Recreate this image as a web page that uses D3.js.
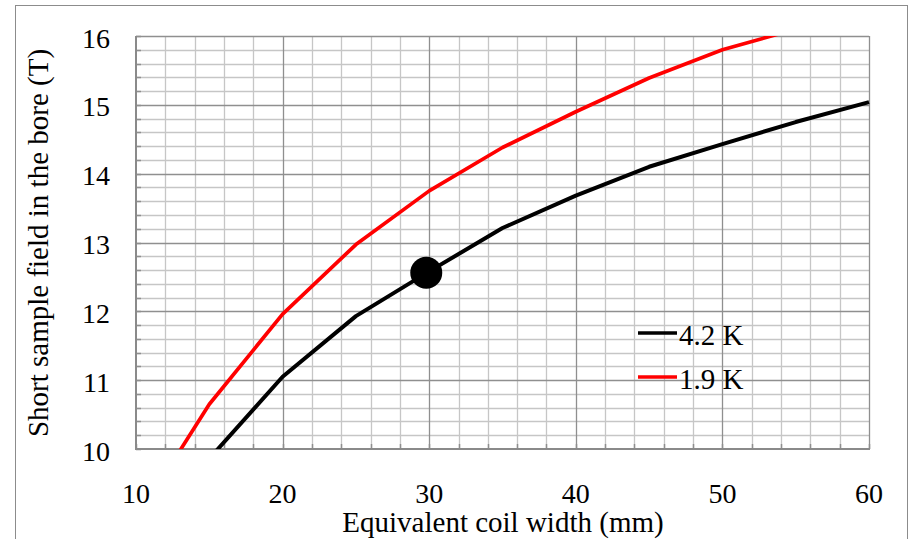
<!DOCTYPE html>
<html>
<head>
<meta charset="utf-8">
<script src="https://cdn.jsdelivr.net/npm/d3@7/dist/d3.min.js"></script>
<style>
  html, body { margin: 0; padding: 0; background: #fff; }
  svg { display: block; }
  text { font-family: "Liberation Serif", "Times New Roman", serif; fill: #000; }
</style>
</head>
<body>
<svg id="chart" width="909" height="539"></svg>
<script>
// Coil width (mm) against short-sample bore field (T)
const widths42 = [15, 20, 25, 30, 35, 40, 45, 50, 55, 60];
const field42  = [9.86, 11.05, 11.93, 12.58, 13.21, 13.68, 14.10, 14.43, 14.75, 15.04];
const widths19 = [12.5, 15, 20, 25, 30, 35, 40, 45, 50, 55, 60];
const field19  = [9.81, 10.65, 11.96, 12.97, 13.75, 14.38, 14.90, 15.39, 15.80, 16.10, 16.40];
const markerPoint = [29.8, 12.56];
const xTicks = [10, 20, 30, 40, 50, 60];
const yTicks = [10, 11, 12, 13, 14, 15, 16];
const legendLabels = ["4.2 K", "1.9 K"];
const seriesColors = ["#000000", "#ff0000"];

const svg = d3.select("#chart");
const plot = { left: 136, top: 36, right: 869, bottom: 449 };

// outer frame
svg.append("rect")
  .attr("x", 15.5).attr("y", 5.5)
  .attr("width", 892).attr("height", 545)
  .attr("fill", "none").attr("stroke", "#8c8c8c").attr("stroke-width", 1);

const x = d3.scaleLinear().domain([10, 60]).range([plot.left, plot.right]);
const y = d3.scaleLinear().domain([10, 16]).range([plot.bottom, plot.top]);

const grid = svg.append("g");
// minor grid
const xMinor = d3.range(12, 60, 2).filter(v => v % 10 !== 0);
const yMinor = d3.range(10.2, 16, 0.2).filter(v => Math.abs(v - Math.round(v)) > 1e-6);
grid.selectAll(".vmin").data(xMinor).join("line")
  .attr("x1", d => Math.round(x(d)) + 0.5).attr("x2", d => Math.round(x(d)) + 0.5)
  .attr("y1", plot.top).attr("y2", plot.bottom)
  .attr("stroke", "#c6c6c6").attr("stroke-width", 1.3);
grid.selectAll(".hmin").data(yMinor).join("line")
  .attr("y1", d => Math.round(y(d)) + 0.5).attr("y2", d => Math.round(y(d)) + 0.5)
  .attr("x1", plot.left).attr("x2", plot.right)
  .attr("stroke", "#c6c6c6").attr("stroke-width", 1.3);
// major grid
grid.selectAll(".vmaj").data(xTicks.slice(1)).join("line")
  .attr("x1", d => Math.round(x(d)) + 0.5).attr("x2", d => Math.round(x(d)) + 0.5)
  .attr("y1", plot.top).attr("y2", plot.bottom)
  .attr("stroke", "#8f8f8f").attr("stroke-width", 1.3);
grid.selectAll(".hmaj").data(yTicks.slice(1)).join("line")
  .attr("y1", d => Math.round(y(d)) + 0.5).attr("y2", d => Math.round(y(d)) + 0.5)
  .attr("x1", plot.left).attr("x2", plot.right)
  .attr("stroke", "#8f8f8f").attr("stroke-width", 1.3);

// inward minor tick marks along the axes
grid.selectAll(".xt").data(xMinor.concat(xTicks)).join("line")
  .attr("x1", d => Math.round(x(d)) + 0.5).attr("x2", d => Math.round(x(d)) + 0.5)
  .attr("y1", plot.bottom).attr("y2", plot.bottom - 5)
  .attr("stroke", "#8f8f8f").attr("stroke-width", 1.5);
grid.selectAll(".yt").data(yMinor.concat(yTicks)).join("line")
  .attr("y1", d => Math.round(y(d)) + 0.5).attr("y2", d => Math.round(y(d)) + 0.5)
  .attr("x1", plot.left).attr("x2", plot.left + 5)
  .attr("stroke", "#8f8f8f").attr("stroke-width", 1.5);

// axis lines
svg.append("line")
  .attr("x1", plot.left).attr("x2", plot.left)
  .attr("y1", plot.top).attr("y2", plot.bottom + 1)
  .attr("stroke", "#8a8a8a").attr("stroke-width", 2);
svg.append("line")
  .attr("x1", plot.left - 1).attr("x2", plot.right + 1)
  .attr("y1", plot.bottom).attr("y2", plot.bottom)
  .attr("stroke", "#8a8a8a").attr("stroke-width", 2);

// tick labels
svg.append("g").selectAll("text").data(yTicks).join("text")
  .attr("x", 110).attr("y", d => y(d) + 11.5)
  .attr("text-anchor", "end").attr("font-size", 28)
  .text(d => d);
svg.append("g").selectAll("text").data(xTicks).join("text")
  .attr("x", d => x(d)).attr("y", 503)
  .attr("text-anchor", "middle").attr("font-size", 28)
  .text(d => d);

// axis titles
svg.append("text")
  .attr("x", 503).attr("y", 532)
  .attr("text-anchor", "middle").attr("font-size", 29)
  .text("Equivalent coil width (mm)");
svg.append("text")
  .attr("transform", "translate(48,243) rotate(-90)")
  .attr("text-anchor", "middle").attr("font-size", 29)
  .text("Short sample field in the bore (T)");

// clipped data lines
svg.append("clipPath").attr("id", "plotClip")
  .append("rect").attr("x", plot.left).attr("y", plot.top)
  .attr("width", plot.right - plot.left + 3).attr("height", plot.bottom - plot.top);

const line = d3.line().x(d => x(d[0])).y(d => y(d[1]));
const series = [
  { pts: d3.zip(widths42, field42), color: seriesColors[0], w: 4 },
  { pts: d3.zip(widths19, field19), color: seriesColors[1], w: 3.7 }
];
const lines = svg.append("g").attr("clip-path", "url(#plotClip)");
lines.selectAll("path").data(series).join("path")
  .attr("d", d => line(d.pts))
  .attr("fill", "none").attr("stroke", d => d.color)
  .attr("stroke-width", d => d.w).attr("stroke-linejoin", "round");

// highlighted point
svg.append("circle")
  .attr("cx", x(markerPoint[0])).attr("cy", y(markerPoint[1]))
  .attr("r", 16).attr("fill", "#000");

// legend
const legend = svg.append("g");
legendLabels.forEach((lab, i) => {
  const ly = 333 + i * 44;
  legend.append("line")
    .attr("x1", 638).attr("x2", 677).attr("y1", ly).attr("y2", ly)
    .attr("stroke", seriesColors[i]).attr("stroke-width", 3.7);
  legend.append("text")
    .attr("x", 679).attr("y", ly + 12).attr("font-size", 29)
    .text(lab);
});
</script>
</body>
</html>
